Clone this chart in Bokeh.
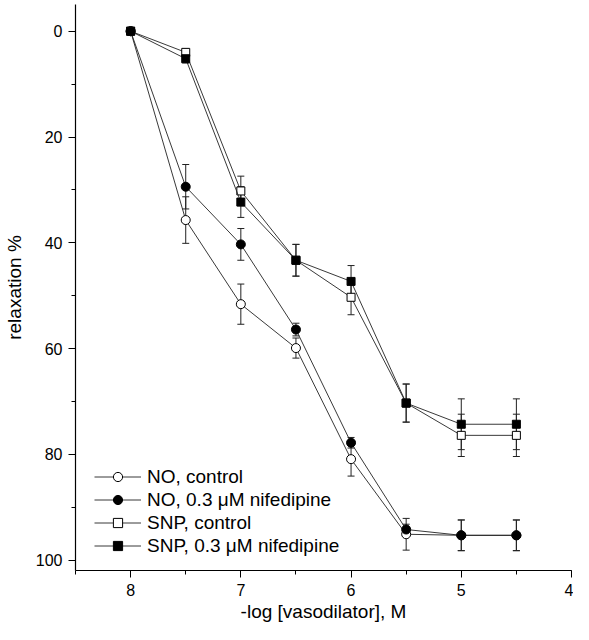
from bokeh.plotting import figure
from bokeh.models import (Range1d, SingleIntervalTicker, Whisker, TeeHead,
                          ColumnDataSource, Legend, LegendItem)
from bokeh.embed import file_html
from bokeh.resources import INLINE

# ---- data ----
log_conc = [8, 7.5, 7, 6.5, 6, 5.5, 5, 4.5]

no_control = [0, 35.7, 51.6, 59.9, 80.9, 95.1, 95.3, 95.3]
no_control_err = [0, 4.4, 3.8, 1.9, 3.2, 3.0, 2.9, 2.9]

no_nifedipine = [0, 29.4, 40.3, 56.4, 77.8, 94.2, 95.3, 95.3]
no_nifedipine_err = [0, 4.2, 3.0, 1.2, 1.0, 1.0, 2.9, 2.9]

snp_control = [0, 4.0, 30.2, 43.3, 50.3, 70.3, 76.4, 76.4]
snp_control_err = [0, 0.7, 2.8, 3.0, 3.3, 3.6, 4.0, 4.0]

snp_nifedipine = [0, 5.2, 32.3, 43.3, 47.3, 70.3, 74.3, 74.3]
snp_nifedipine_err = [0, 0.8, 2.9, 3.0, 3.0, 3.6, 4.8, 4.8]

labels = ["NO, control", "NO, 0.3 \u03bcM nifedipine",
          "SNP, control", "SNP, 0.3 \u03bcM nifedipine"]
x_ticks_interval = 1
y_ticks_interval = 20

FONT = "Liberation Sans"

p = figure(width=573, height=624,
           x_range=Range1d(8.5, 4.0), y_range=Range1d(101.95, -5.05),
           output_backend="svg", toolbar_location=None,
           min_border_left=75, min_border_right=2,
           min_border_top=4, min_border_bottom=54)
p.outline_line_color = None
p.grid.visible = False
p.background_fill_color = "white"
p.border_fill_color = "white"

p.xaxis.ticker = SingleIntervalTicker(interval=x_ticks_interval, num_minor_ticks=2)
p.yaxis.ticker = SingleIntervalTicker(interval=y_ticks_interval, num_minor_ticks=2)

for ax in (p.xaxis[0], p.yaxis[0]):
    ax.axis_line_color = "black"
    ax.axis_line_width = 1.2
    ax.major_tick_line_color = "black"
    ax.minor_tick_line_color = "black"
    ax.major_tick_in = 0
    ax.major_tick_out = 7
    ax.minor_tick_in = 0
    ax.minor_tick_out = 4
    ax.major_label_text_font = FONT
    ax.major_label_text_font_size = "16px"
    ax.major_label_text_color = "black"
    ax.axis_label_text_font = FONT
    ax.axis_label_text_font_size = "19px"
    ax.axis_label_text_font_style = "normal"
    ax.axis_label_text_color = "black"

p.xaxis.axis_label = "-log [vasodilator], M"
p.xaxis.major_label_standoff = 6
p.xaxis.axis_label_standoff = 2
p.yaxis.axis_label = "relaxation %"
p.yaxis.major_label_standoff = 6
p.yaxis.axis_label_standoff = 8

series = [
    (no_control, no_control_err, "circle", "white", 9),
    (no_nifedipine, no_nifedipine_err, "circle", "black", 9),
    (snp_control, snp_control_err, "square", "white", 8),
    (snp_nifedipine, snp_nifedipine_err, "square", "black", 8),
]

items = []
for (vals, errs, marker, fill, size), lab in zip(series, labels):
    src = ColumnDataSource(dict(x=log_conc, y=vals))
    ex = [xv for xv, e in zip(log_conc, errs) if e > 0]
    lo = [v - e for v, e in zip(vals, errs) if e > 0]
    hi = [v + e for v, e in zip(vals, errs) if e > 0]
    esrc = ColumnDataSource(dict(x=ex, lower=lo, upper=hi))
    w = Whisker(source=esrc, base="x", lower="lower", upper="upper",
                line_color="#222222", line_width=1,
                upper_head=TeeHead(size=7, line_color="#222222", line_width=1),
                lower_head=TeeHead(size=7, line_color="#222222", line_width=1))
    p.add_layout(w)
    ln = p.line("x", "y", source=src, line_color="#222222", line_width=0.9)
    sc = p.scatter("x", "y", source=src, marker=marker, size=size,
                   fill_color=fill, line_color="black", line_width=1)
    items.append(LegendItem(label=lab, renderers=[ln, sc]))

legend = Legend(items=items, location=(19, 13), padding=0, margin=0, spacing=0,
                glyph_width=47, glyph_height=23, label_height=23,
                label_standoff=6, border_line_color=None,
                background_fill_alpha=0,
                label_text_font=FONT, label_text_font_size="19px",
                label_text_color="black")
p.add_layout(legend)

open("out.html", "w").write(file_html(p, INLINE))
